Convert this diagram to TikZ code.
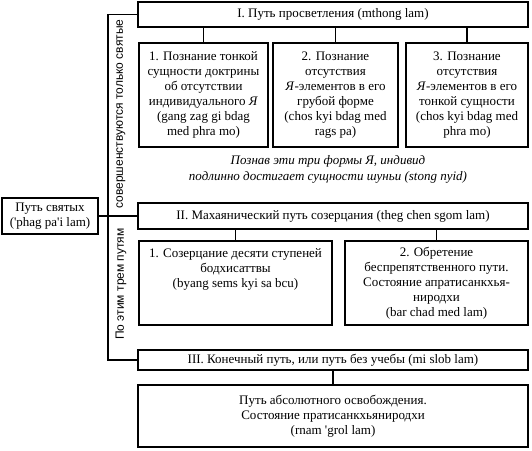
\documentclass[tikz,border=0pt]{standalone}
\usepackage{fontspec}
\setmainfont{Liberation Serif}
\setsansfont{Liberation Sans}
\begin{document}
\begin{tikzpicture}[x=1pt,y=-1pt,
  box/.style={draw,line width=1.1pt,inner sep=0pt,align=center,font=\fontsize{13}{15}\selectfont},
  conn/.style={line width=1.1pt},
  side/.style={rotate=90,font=\sffamily\fontsize{12}{13}\selectfont},
  note/.style={align=center,font=\itshape\fontsize{13}{16}\selectfont}]
\useasboundingbox (0,0) rectangle (532,450);
% main path box
\node[box,minimum width=96pt,minimum height=36pt] (saints) at (50,216) {Путь святых\\(\textquotesingle phag pa\textquotesingle i lam)};
% I
\node[box,minimum width=390pt,minimum height=25pt] (p1) at (333,14.5) {I. Путь просветления (mthong lam)};
\node[box,minimum width=129pt,minimum height=104pt] (p1a) at (203.5,95) {1. Познание тонкой\\сущности доктрины\\об отсутствии\\индивидуального \textit{Я}\\(gang zag gi bdag\\med phra mo)};
\node[box,minimum width=125pt,minimum height=104pt] (p1b) at (335.5,95) {2. Познание\\отсутствия\\\textit{Я}-элементов в его\\грубой форме\\(chos kyi bdag med\\rags pa)};
\node[box,minimum width=122pt,minimum height=104pt] (p1c) at (467,95) {3. Познание\\отсутствия\\\textit{Я}-элементов в его\\тонкой сущности\\(chos kyi bdag med\\phra mo)};
\node[note] (n1) at (328,169) {Познав эти три формы Я, индивид\\подлинно достигает сущности шуньи (stong nyid)};
% II
\node[box,minimum width=390pt,minimum height=26pt] (p2) at (333,216) {II. Махаянический путь созерцания (theg chen sgom lam)};
\node[box,minimum width=193pt,minimum height=84pt] (p2a) at (235.5,283) {1. Созерцание десяти ступеней\\бодхисаттвы\\(byang sems kyi sa bcu)\\~\\~};
\node[box,minimum width=183pt,minimum height=84pt] (p2b) at (436.5,283) {2. Обретение\\беспрепятственного пути.\\Состояние апратисанкхья-\\ниродхи\\(bar chad med lam)};
% III
\node[box,minimum width=390pt,minimum height=20pt] (p3) at (333,360) {III. Конечный путь, или путь без учебы (mi slob lam)};
\node[box,minimum width=390pt,minimum height=62pt] (p3a) at (333,416) {Путь абсолютного освобождения.\\Состояние пратисанкхьяниродхи\\(rnam \textquotesingle grol lam)};
% side labels
\node[side] (s1) at (121,114) {совершенствуются только святые};
\node[side] (s2) at (121,284) {По этим трем путям};
% connectors
\coordinate (vx) at (108,0);
\draw[conn] (p1.west) -- (p1.west -| vx) -- (p3.west -| vx) -- (p3.west);
\draw[conn] (saints.east) -- (p2.west);
\draw[conn] (p1.south -| p1a.north) -- (p1a.north);
\draw[conn] (p1.south -| p1b.north) -- (p1b.north);
\draw[conn] (p1.south -| p1c.north) -- (p1c.north);
\draw[conn] (p2.south -| p2a.north) -- (p2a.north);
\draw[conn] (p2.south -| p2b.north) -- (p2b.north);
\draw[conn] (p3.south) -- (p3a.north);
\end{tikzpicture}
\end{document}
